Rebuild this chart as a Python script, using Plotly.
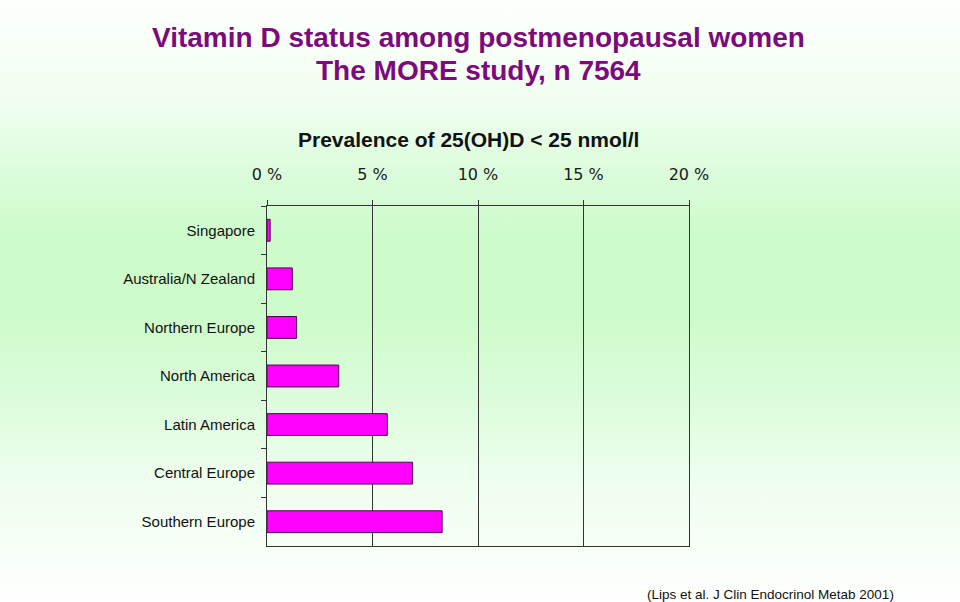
import base64
import plotly.graph_objects as go

# ---- data ----
regions = ["Singapore", "Australia/N Zealand", "Northern Europe", "North America",
           "Latin America", "Central Europe", "Southern Europe"]
prevalence = [0.15, 1.2, 1.4, 3.4, 5.7, 6.9, 8.3]
x_tickvals = [0, 5, 10, 15, 20]
x_ticktext = ["0 %", "5 %", "10 %", "15 %", "20 %"]

title_lines = ["Vitamin D status among postmenopausal women", "The MORE study, n 7564"]
subtitle = "Prevalence of 25(OH)D < 25 nmol/l"
citation = "(Lips et al. J Clin Endocrinol Metab 2001)"

W, H = 960, 602
L, R, T, B = 267, 271, 206, 56
pw, ph = W - L - R, H - T - B

# background gradient as an SVG image
svg = f'''<svg xmlns="http://www.w3.org/2000/svg" width="{W}" height="{H}" preserveAspectRatio="none">
<defs><linearGradient id="g" x1="0" y1="0" x2="0" y2="1">
<stop offset="0" stop-color="#fdfffd"/>
<stop offset="0.17" stop-color="#f0fef0"/>
<stop offset="0.30" stop-color="#d9fcd9"/>
<stop offset="0.40" stop-color="#cdfbca"/>
<stop offset="0.52" stop-color="#cdfbca"/>
<stop offset="0.65" stop-color="#dafcda"/>
<stop offset="0.80" stop-color="#eefeee"/>
<stop offset="1" stop-color="#fefffe"/>
</linearGradient></defs>
<rect width="{W}" height="{H}" fill="url(#g)"/></svg>'''
src = "data:image/svg+xml;base64," + base64.b64encode(svg.encode()).decode()

fig = go.Figure()
fig.add_trace(go.Bar(
    y=regions, x=prevalence, orientation="h",
    marker=dict(color="#ff00ff", line=dict(color="#4a0a4a", width=1)),
    showlegend=False, hoverinfo="x+y",
))

fig.update_layout(
    width=W, height=H,
    margin=dict(l=L, r=R, t=T, b=B, pad=0),
    paper_bgcolor="rgba(0,0,0,0)", plot_bgcolor="rgba(0,0,0,0)",
    bargap=0.55,
    images=[dict(source=src, xref="paper", yref="paper",
                 x=-L / pw, y=1 + T / ph, sizex=W / pw, sizey=H / ph,
                 xanchor="left", yanchor="top", sizing="stretch", layer="below")],
    xaxis=dict(
        side="top", range=[0, 20], tickvals=x_tickvals, ticktext=x_ticktext,
        showgrid=True, gridcolor="#333333", gridwidth=1,
        showline=True, linecolor="#333333", linewidth=1, mirror=True,
        ticks="outside", ticklen=5, tickcolor="#333333",
        ticklabelstandoff=14,
        tickfont=dict(family="DejaVu Sans", size=16, color="#1a1a1a"),
        zeroline=False, fixedrange=True,
    ),
    yaxis=dict(
        categoryorder="array", categoryarray=regions, autorange="reversed",
        showline=True, linecolor="#333333", linewidth=1, mirror=True,
        ticks="outside", ticklen=5, tickcolor="#333333", tickson="boundaries",
        ticklabelstandoff=8,
        tickfont=dict(family="Liberation Sans, Arial", size=15, color="#111111"),
        showgrid=False, fixedrange=True,
    ),
    annotations=[
        dict(text=f"<b>{title_lines[0]}</b>", xref="paper", yref="paper",
             x=(478 - L) / pw, y=1 + (T - 37) / ph, xanchor="center", yanchor="middle",
             showarrow=False, font=dict(family="Liberation Sans, Arial", size=28, color="#7d0a7d")),
        dict(text=f"<b>{title_lines[1]}</b>", xref="paper", yref="paper",
             x=(478 - L) / pw, y=1 + (T - 70) / ph, xanchor="center", yanchor="middle",
             showarrow=False, font=dict(family="Liberation Sans, Arial", size=28, color="#7d0a7d")),
        dict(text=f"<b>{subtitle}</b>", xref="paper", yref="paper",
             x=(468 - L) / pw, y=1 + (T - 139) / ph, xanchor="center", yanchor="middle",
             showarrow=False, font=dict(family="Liberation Sans, Arial", size=21, color="#111111")),
        dict(text=citation, xref="paper", yref="paper",
             x=(770 - L) / pw, y=-(594 - (H - B)) / ph, xanchor="center", yanchor="middle",
             showarrow=False, font=dict(family="Liberation Sans, Arial", size=13.5, color="#111111")),
    ],
)

fig.write_html("out.html", config={"displayModeBar": False},
               post_script="document.body.style.margin='0';document.body.style.overflow='hidden';")
